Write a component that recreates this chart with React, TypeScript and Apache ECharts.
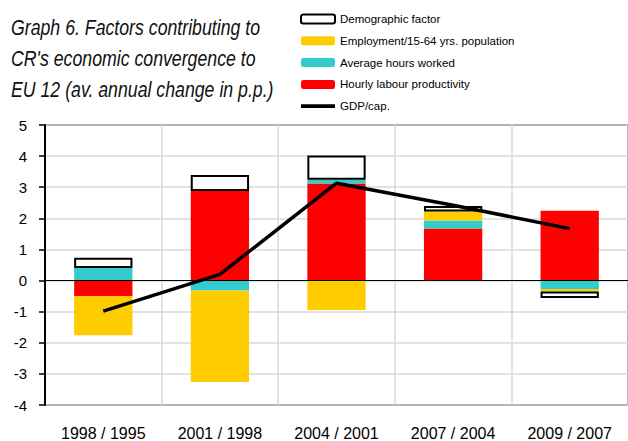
import React, { useEffect, useRef } from "react";
import * as echarts from "echarts";

const categories = ["1998 / 1995", "2001 / 1998", "2004 / 2001", "2007 / 2004", "2009 / 2007"];
const productivity = [-0.5, 2.88, 3.12, 1.67, 2.24];
const hoursWorked = [0.4, -0.32, 0.12, 0.26, -0.27];
const employment = [-1.26, -2.94, -0.95, 0.29, -0.08];
const demographic = [0.33, 0.51, 0.78, 0.18, -0.21];
const gdpPerCap = [-0.98, 0.2, 3.13, 2.42, 1.67];
const titleLines = [
  "Graph 6. Factors contributing to",
  "CR's economic convergence to",
  "EU 12 (av. annual change in p.p.)",
];

const FONT = '"Liberation Sans", Arial, sans-serif';

export default function App() {
  const ref = useRef<HTMLDivElement>(null);
  useEffect(() => {
    if (!ref.current) return;
    const chart = echarts.init(ref.current, null, { renderer: "svg" });
    chart.setOption({
      animation: false,
      backgroundColor: "#fff",
      grid: {
        left: 45,
        top: 125,
        bottom: 36,
        right: -10,
        show: true,
        borderColor: "#111",
        borderWidth: 1.5,
      },
      graphic: titleLines.map((t, i) => ({
        type: "text",
        x: 11,
        y: 27 + i * 31,
        scaleX: 0.805,
        style: {
          text: t,
          font: `italic 22px ${FONT}`,
          fill: "#111",
          verticalAlign: "middle",
        },
      })),
      legend: {
        orient: "vertical",
        left: 300,
        top: 12,
        padding: 0,
        itemWidth: 34,
        itemHeight: 9,
        itemGap: 7.8,
        data: [
          "Demographic factor",
          "Employment/15-64 yrs. population",
          "Average hours worked",
          "Hourly labour productivity",
          { name: "GDP/cap.", icon: "path://M0,0 L100,0 L100,11 L0,11 Z" },
        ],
        textStyle: { fontFamily: FONT, fontSize: 11.5, color: "#000", lineHeight: 14 },
      },
      xAxis: {
        type: "category",
        data: categories,
        axisLine: { show: false, onZero: false },
        axisTick: { show: false },
        splitLine: { show: true, lineStyle: { color: "#d9d9d9", width: 1.5 } },
        axisLabel: { fontFamily: FONT, fontSize: 16, color: "#000", margin: 20 },
      },
      yAxis: {
        type: "value",
        min: -4,
        max: 5,
        interval: 1,
        axisLine: { show: true, lineStyle: { color: "#000", width: 2 } },
        axisTick: { show: true, length: 6, lineStyle: { color: "#000", width: 1.5 } },
        splitLine: { show: true, lineStyle: { color: "#d9d9d9", width: 1.5 } },
        axisLabel: { fontFamily: FONT, fontSize: 15, color: "#000", margin: 18 },
      },
      series: [
        {
          name: "Hourly labour productivity",
          type: "bar",
          stack: "f",
          barWidth: "50%",
          data: productivity,
          itemStyle: { color: "#ff0000" },
          markLine: {
            silent: true,
            symbol: "none",
            label: { show: false },
            lineStyle: { color: "#000", width: 1, type: "solid" },
            data: [{ yAxis: 0 }],
          },
        },
        {
          name: "Average hours worked",
          type: "bar",
          stack: "f",
          data: hoursWorked,
          itemStyle: { color: "#33cccc" },
        },
        {
          name: "Employment/15-64 yrs. population",
          type: "bar",
          stack: "f",
          data: employment,
          itemStyle: { color: "#ffcc00" },
        },
        {
          name: "Demographic factor",
          type: "bar",
          stack: "f",
          data: demographic,
          itemStyle: { color: "#fff", borderColor: "#000", borderWidth: 2 },
        },
        {
          name: "GDP/cap.",
          type: "line",
          data: gdpPerCap,
          symbol: "none",
          z: 5,
          lineStyle: { color: "#000", width: 3.5 },
          itemStyle: { color: "#000" },
        },
      ],
    });
    return () => chart.dispose();
  }, []);
  return <div ref={ref} style={{ width: 628, height: 441, position: "absolute", left: 0, top: 0 }} />;
}
